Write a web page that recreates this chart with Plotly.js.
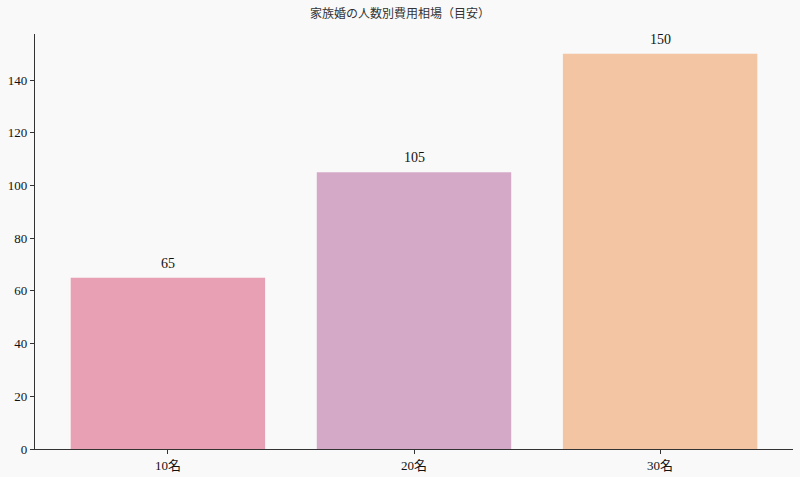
<!DOCTYPE html>
<html>
<head>
<meta charset="utf-8">
<script src="https://cdn.plot.ly/plotly-3.0.1.min.js"></script>
<style>
  html, body { margin: 0; padding: 0; background: #f9f9f9; }
  #chart { width: 800px; height: 477px; }
</style>
</head>
<body>
<div id="chart"></div>
<script>
var categories = ['10名', '20名', '30名'];
var costs = [65, 105, 150];
var barColors = ['#e8a0b4', '#d4a9c8', '#f4c5a3'];
var yTicks = [0, 20, 40, 60, 80, 100, 120, 140];

var serif = 'Liberation Serif, DejaVu Serif, Noto Sans CJK JP, serif';

var data = [{
  x: [0, 1, 2],
  y: costs,
  type: 'bar',
  width: 0.79,
  marker: { color: barColors, line: { width: 0 } },
  hoverinfo: 'none'
}];

var labels = costs.map(function (v, i) {
  return {
    x: i, y: v, text: String(v),
    showarrow: false, yanchor: 'bottom', yshift: 5,
    font: { family: serif, size: 14, color: '#111' }
  };
});

var layout = {
  width: 800,
  height: 477,
  paper_bgcolor: '#f9f9f9',
  plot_bgcolor: '#f9f9f9',
  margin: { l: 35, r: 7, t: 34, b: 28, pad: 0 },
  font: { family: serif, size: 13, color: '#111' },
  title: {
    text: '家族婚の人数別費用相場（目安）',
    x: 0.5, xanchor: 'center', y: 0.972, yanchor: 'middle',
    font: { family: serif, size: 12, color: '#333' }
  },
  showlegend: false,
  xaxis: {
    range: [-0.54, 2.54],
    tickmode: 'array',
    tickvals: [0, 1, 2],
    ticktext: categories,
    showgrid: false,
    zeroline: false,
    showline: true,
    linecolor: '#333',
    linewidth: 1.2,
    ticks: 'outside',
    ticklen: 4,
    tickcolor: '#333',
    tickfont: { family: serif, size: 13, color: '#111' }
  },
  yaxis: {
    range: [0, 157.5],
    tickmode: 'array',
    tickvals: yTicks,
    showgrid: false,
    zeroline: false,
    showline: true,
    linecolor: '#333',
    linewidth: 1.2,
    ticks: 'outside',
    ticklen: 4,
    tickcolor: '#333',
    tickfont: { family: serif, size: 13, color: '#111' }
  },
  annotations: labels
};

Plotly.newPlot('chart', data, layout, { displayModeBar: false, staticPlot: true });
</script>
</body>
</html>
